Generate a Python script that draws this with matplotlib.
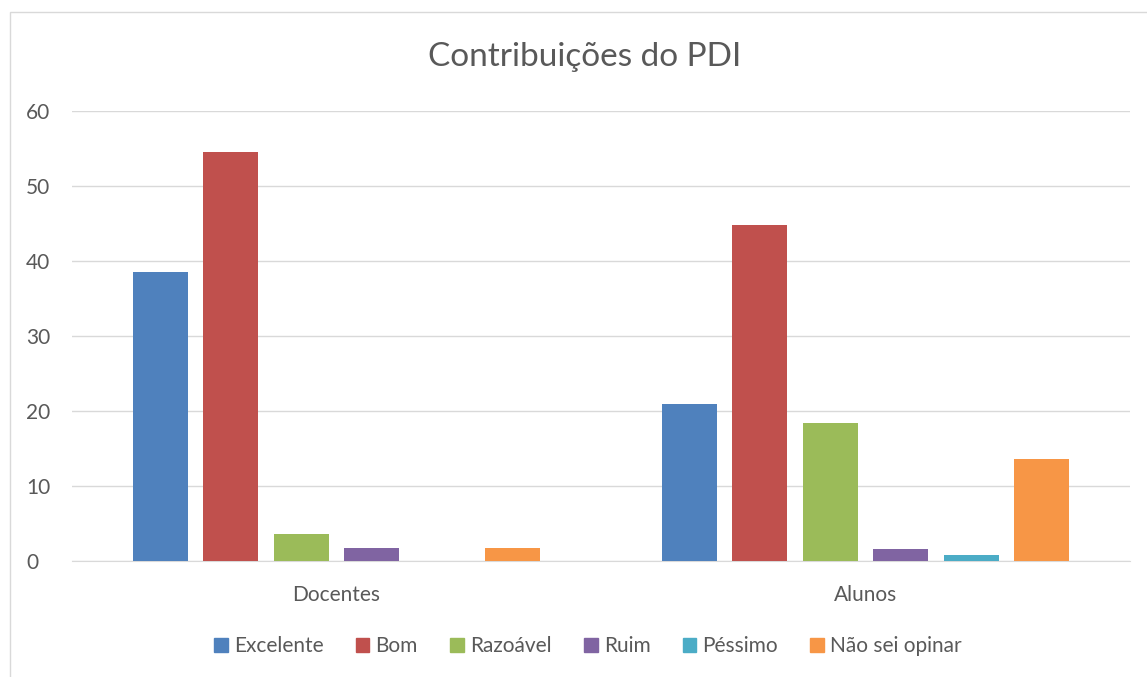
import matplotlib.pyplot as plt
import matplotlib.patches as mpatches
import numpy as np

plt.rcParams['font.family'] = ['Lato', 'DejaVu Sans']

groups = ['Docentes', 'Alunos']
series = ['Excelente', 'Bom', 'Razoável', 'Ruim', 'Péssimo', 'Não sei opinar']
values = [
    [38.5, 20.9],   # Excelente
    [54.5, 44.8],   # Bom
    [3.6, 18.4],    # Razoável
    [1.7, 1.6],     # Ruim
    [0.0, 0.8],     # Péssimo
    [1.7, 13.6],    # Não sei opinar
]
colors = ['#4f81bd', '#c0504d', '#9bbb59', '#8064a2', '#4bacc6', '#f79646']
yticks = [0, 10, 20, 30, 40, 50, 60]

txt = '#595959'
fig = plt.figure(figsize=(11.47, 6.77), dpi=100)
ax = fig.add_axes([72/1147, 1 - 561/677, 1058/1147, 450/677])

x = np.arange(len(groups))
step = 0.1333
width = 0.104
for i, (name, vals) in enumerate(zip(series, values)):
    off = (i - (len(series) - 1) / 2) * step
    ax.bar(x + off, vals, width, color=colors[i], label=name, zorder=3)

ax.set_xlim(-0.5, 1.5)
ax.set_ylim(0, 60)
ax.set_yticks(yticks)
ax.yaxis.grid(True, color='#d9d9d9', linewidth=1, zorder=0)
ax.set_xticks(x)
ax.set_xticklabels(groups)
ax.tick_params(axis='both', length=0, labelsize=15, colors=txt)
ax.tick_params(axis='x', pad=17)
ax.tick_params(axis='y', pad=33)
for lab in ax.get_yticklabels():
    lab.set_horizontalalignment('left')
for s in ['top', 'right', 'left']:
    ax.spines[s].set_visible(False)
ax.spines['bottom'].set_color('#d9d9d9')

fig.text(585/1147, 1 - 57/677, 'Contribuições do PDI', ha='center', va='center',
         fontsize=24, color=txt)

handles = [mpatches.Patch(color=c, label=n) for c, n in zip(colors, series)]
leg = fig.legend(handles=handles, loc='center', bbox_to_anchor=(588/1147, 1 - 646/677),
                 ncol=6, frameon=False, fontsize=15, handlelength=0.65, handleheight=0.65,
                 handletextpad=0.3, columnspacing=1.55)
for t in leg.get_texts():
    t.set_color(txt)

border = mpatches.Rectangle((10/1147, -0.1), 1.2, 1 - 12/677 + 0.1, transform=fig.transFigure,
                            fill=False, edgecolor='#d9d9d9', linewidth=1)
fig.patches.append(border)

fig.savefig('out.png', dpi=100)
